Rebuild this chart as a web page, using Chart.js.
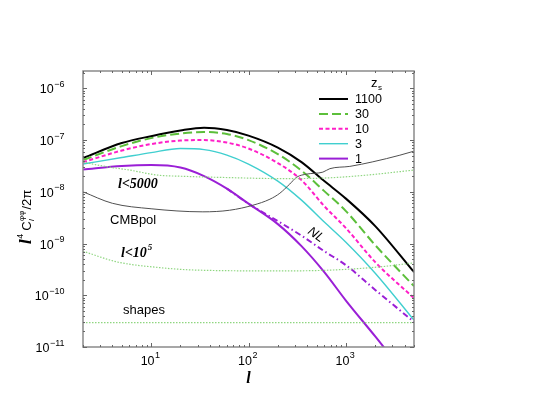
<!DOCTYPE html>
<html><head><meta charset="utf-8">
<script src="https://cdn.jsdelivr.net/npm/chart.js@4.4.0/dist/chart.umd.min.js"></script>
<style>html,body{margin:0;padding:0;background:#fff;}#wrap{width:542px;height:419px;}</style>
</head><body><div id="wrap"><canvas id="c" width="542" height="419"></canvas></div>
<script>
// multipole grid for the lensing spectra
const ell = [2, 5, 10, 20, 35, 60, 100, 200, 350, 600, 1000, 2000, 5000];
// l^4 C_l^{phiphi}/2pi for each source redshift z_s
const cl1100 = [4.49e-8, 8.75e-8, 1.19e-7, 1.53e-7, 1.73e-7, 1.56e-7, 1.22e-7, 7.16e-8, 3.75e-8, 1.61e-8, 7.38e-9, 2.17e-9, 2.80e-10];
const cl30   = [4.1e-8, 7.65e-8, 1.09e-7, 1.34e-7, 1.43e-7, 1.31e-7, 1.0e-7, 5.35e-8, 2.57e-8, 1.03e-8, 4.24e-9, 9.3e-10, 1.50e-10];
const cl10   = [3.75e-8, 6.27e-8, 8.37e-8, 9.78e-8, 1.0e-7, 8.95e-8, 6.86e-8, 3.59e-8, 1.68e-8, 5.28e-9, 1.99e-9, 4.37e-10, 8.8e-11];
const cl3    = [3.44e-8, 4.59e-8, 5.73e-8, 6.86e-8, 6.55e-8, 5.13e-8, 3.44e-8, 1.61e-8, 6.9e-9, 2.6e-9, 1.06e-9, 2.67e-10, 3.3e-11];
const cl1    = [2.69e-8, 3.14e-8, 3.28e-8, 2.94e-8, 2.01e-8, 1.15e-8, 5.89e-9, 2.37e-9, 8.9e-10, 2.8e-10, 7.9e-11, 1.6e-11, 1.8e-12];
// z_s = 1 with non-linear power
const ellNL  = [60, 100, 200, 350, 600, 1000, 2000, 5000];
const cl1NL  = [1.15e-8, 5.89e-9, 2.71e-9, 1.42e-9, 7.1e-10, 3.82e-10, 1.27e-10, 3.05e-11];
// noise curves
const ellPol = [2, 4, 10, 34, 64, 111, 166, 210, 265, 313, 397, 580, 684, 1097, 1890, 3580, 5000];
const noisePol = [1.0e-8, 6.0e-9, 4.7e-9, 4.1e-9, 4.4e-9, 5.5e-9, 7.2e-9, 9.4e-9, 1.41e-8, 1.92e-8, 2.2e-8, 2.4e-8, 2.8e-8, 3.1e-8, 3.8e-8, 5.1e-8, 6.1e-8];
const ell5k = [2, 3.2, 6, 11.7, 20, 64, 210, 580, 1625, 5000];
const noise5k = [3.75e-8, 3.14e-8, 2.63e-8, 2.1e-8, 2.0e-8, 1.88e-8, 1.80e-8, 1.84e-8, 2.1e-8, 2.63e-8];
const ell1e5 = [2, 4.5, 11.7, 30, 210, 684, 2230, 5000];
const noise1e5 = [7.1e-10, 4.4e-10, 3.45e-10, 3.06e-10, 2.96e-10, 3.06e-10, 3.54e-10, 4.24e-10];
const ellShapes = [2, 5000];
const noiseShapes = [2.95e-11, 2.95e-11];
// axis ticks
const xTicks = [10, 100, 1000];
const yTicks = [1e-11, 1e-10, 1e-9, 1e-8, 1e-7, 1e-6];
const legendTitle = 'z';
const legendLabels = ['1100', '30', '10', '3', '1'];

const pts = (xs, ys) => xs.map((x, i) => ({x, y: ys[i]}));
const expOf = v => String(Math.round(Math.log10(v))).replace('-', '\u2212');

const dotted = '#8fd680';
function ds(label, xs, ys, color, width, dash, inLegend){
  return {label, data: pts(xs, ys), borderColor: color, backgroundColor: color, borderWidth: width,
    borderDash: dash, pointRadius: 0, fill: false, cubicInterpolationMode: 'monotone', inLegend};
}
const datasets = [
  ds('shapes', ellShapes, noiseShapes, dotted, 1.2, [1.5,1.5], false),
  ds('l<10^5', ell1e5, noise1e5, dotted, 1.2, [1.5,1.5], false),
  ds('l<5000', ell5k, noise5k, dotted, 1.2, [1.5,1.5], false),
  ds('CMBpol', ellPol, noisePol, '#505050', 1, [], false),
  ds('1 NL', ellNL, cl1NL, '#9a1fd6', 2, [6,3,1.5,3], false),
  ds(legendLabels[4], ell, cl1, '#9a1fd6', 2, [], true),
  ds(legendLabels[3], ell, cl3, '#40cfcf', 1.4, [], true),
  ds(legendLabels[2], ell, cl10, '#ff1fc8', 2, [4,2.5], true),
  ds(legendLabels[1], ell, cl30, '#5cbf3a', 2, [9,4], true),
  ds(legendLabels[0], ell, cl1100, '#000000', 2, [], true),
];

const sans = '"Liberation Sans", Arial, sans-serif';
const serif = '"Liberation Serif", "Times New Roman", serif';

const decor = {
  id: 'decor',
  afterDatasetsDraw(chart){
    const ctx = chart.ctx, a = chart.chartArea, xs = chart.scales.x, ys = chart.scales.y;
    ctx.save();
    // frame
    ctx.strokeStyle = '#8a8a8a'; ctx.lineWidth = 1.5; ctx.setLineDash([]);
    ctx.strokeRect(a.left, a.top, a.right - a.left, a.bottom - a.top);
    // inward ticks
    ctx.lineWidth = 1; ctx.strokeStyle = '#666';
    ctx.beginPath();
    for (let d = 0; d <= 4; d++) for (let k = 1; k <= 9; k++){
      const v = k * Math.pow(10, d); if (v < xs.min || v > xs.max) continue;
      const px = Math.round(xs.getPixelForValue(v)) + 0.5, L = k === 1 ? 4 : 2;
      ctx.moveTo(px, a.bottom); ctx.lineTo(px, a.bottom - L);
      ctx.moveTo(px, a.top); ctx.lineTo(px, a.top + L);
    }
    for (let d = -12; d <= -5; d++) for (let k = 1; k <= 9; k++){
      const v = k * Math.pow(10, d); if (v < ys.min * 0.999 || v > ys.max) continue;
      const py = Math.round(ys.getPixelForValue(v)) + 0.5, L = k === 1 ? 4 : 2;
      ctx.moveTo(a.left, py); ctx.lineTo(a.left + L, py);
      ctx.moveTo(a.right, py); ctx.lineTo(a.right - L, py);
    }
    ctx.stroke();

    // tick labels (10 with superscript exponent), placed from the scales' ticks
    ctx.fillStyle = '#000'; ctx.textBaseline = 'alphabetic'; ctx.textAlign = 'left';
    const base = '12.5px ' + sans, sup = '9px ' + sans;
    ys.ticks.forEach(t => {
      const py = ys.getPixelForValue(t.value), e = expOf(t.value);
      ctx.font = sup; const we = ctx.measureText(e).width;
      ctx.font = base; const wb = ctx.measureText('10').width;
      const right = 64, x0 = right - we - wb;
      ctx.fillText('10', x0, py + 5);
      ctx.font = sup; ctx.fillText(e, x0 + wb + 0.5, py - 1.5);
    });
    xs.ticks.forEach(t => {
      const px = xs.getPixelForValue(t.value), e = expOf(t.value);
      ctx.font = sup; const we = ctx.measureText(e).width;
      ctx.font = base; const wb = ctx.measureText('10').width;
      const x0 = px - (wb + we) / 2 - 1;
      ctx.fillText('10', x0, 365);
      ctx.font = sup; ctx.fillText(e, x0 + wb + 0.5, 358);
    });

    // legend
    ctx.font = '13px ' + sans; ctx.fillText(legendTitle, 371, 87);
    ctx.font = '8px ' + sans; ctx.fillText('s', 378, 90);
    const legendSets = datasets.filter(d => d.inLegend).reverse();
    legendSets.forEach((d, i) => {
      const y = 99 + i * 14.9;
      ctx.strokeStyle = d.borderColor; ctx.lineWidth = d.borderWidth; ctx.setLineDash(d.borderDash);
      ctx.beginPath(); ctx.moveTo(319, y); ctx.lineTo(348, y); ctx.stroke();
      ctx.setLineDash([]);
      ctx.font = '12.5px ' + sans; ctx.textBaseline = 'middle'; ctx.fillStyle = '#000';
      ctx.fillText(d.label, 355, y + 0.5);
    });

    // annotations
    ctx.textBaseline = 'alphabetic';
    ctx.font = 'italic bold 14px ' + serif; ctx.fillText('l<5000', 118, 188);
    ctx.font = '13px ' + sans; ctx.fillText('CMBpol', 110, 224);
    ctx.font = 'italic bold 14px ' + serif; ctx.fillText('l<10', 121, 257);
    const w10 = ctx.measureText('l<10').width;
    ctx.font = 'italic bold 9px ' + serif; ctx.fillText('5', 121 + w10 + 1, 250);
    ctx.font = '13px ' + sans; ctx.fillText('shapes', 123, 314);
    ctx.save(); ctx.translate(307, 233); ctx.rotate(35 * Math.PI / 180);
    ctx.font = 'italic 13px ' + sans; ctx.fillText('NL', 0, 0); ctx.restore();

    // y axis title (rotated)
    ctx.save(); ctx.translate(31, 244); ctx.rotate(-Math.PI / 2);
    let x = 0;
    ctx.font = 'italic bold 17px ' + serif; ctx.fillText('l', x, 0); x += ctx.measureText('l').width + 0.5;
    ctx.font = '9px ' + sans; ctx.fillText('4', x, -8); x += ctx.measureText('4').width + 3;
    ctx.font = '13px ' + sans; ctx.fillText('C', x, 0); x += ctx.measureText('C').width + 0.5;
    ctx.font = 'italic 8px ' + sans; ctx.fillText('l', x, 3);
    ctx.font = '8px ' + sans; ctx.fillText('φφ', x, -7); x += ctx.measureText('φφ').width + 1;
    ctx.font = '13px ' + sans; ctx.fillText('/2π', x, 0);
    ctx.restore();
    ctx.restore();
  }
};

new Chart(document.getElementById('c'), {
  type: 'line',
  data: { datasets },
  options: {
    responsive: false, animation: false, devicePixelRatio: 1,
    layout: { padding: { left: 0, top: 71, right: 128, bottom: 0 } },
    plugins: { legend: { display: false }, tooltip: { enabled: false } },
    scales: {
      x: {
        type: 'logarithmic', min: 2, max: 5000,
        grid: { display: false, drawTicks: false }, border: { display: false },
        afterBuildTicks: s => { s.ticks = xTicks.map(v => ({value: v})); },
        afterFit: s => { s.height = 72; },
        ticks: { display: false, autoSkip: false },
        title: { display: true, text: 'l', color: '#000', font: { family: serif, style: 'italic', weight: 'bold', size: 16 }, padding: { top: 0, bottom: 31 } }
      },
      y: {
        type: 'logarithmic', min: 1e-11, max: Math.pow(10, -5.665),
        grid: { display: false, drawTicks: false }, border: { display: false },
        afterBuildTicks: s => { s.ticks = yTicks.map(v => ({value: v})); },
        afterFit: s => { s.width = 83; },
        ticks: { display: false, autoSkip: false }
      }
    }
  },
  plugins: [decor]
});
</script></body></html>
